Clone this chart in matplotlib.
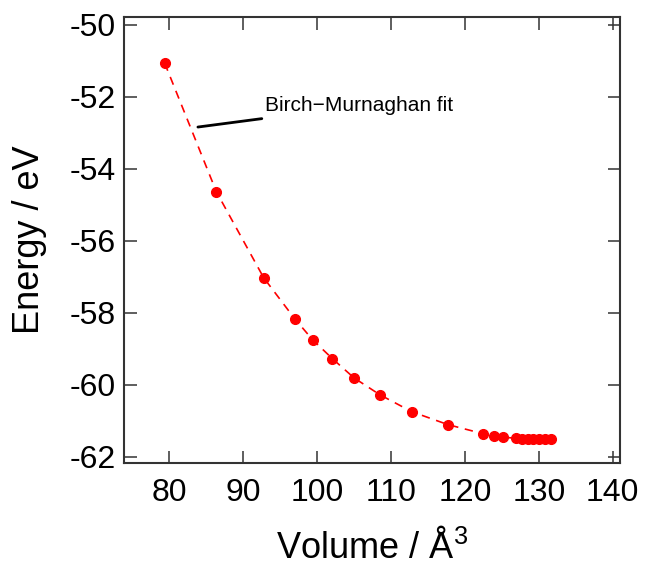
import numpy as np
import matplotlib
matplotlib.use('Agg')
import matplotlib.pyplot as plt

matplotlib.rcParams['font.family'] = ['Liberation Sans', 'DejaVu Sans']
matplotlib.rcParams['mathtext.fontset'] = 'custom'
matplotlib.rcParams['mathtext.rm'] = 'Liberation Sans'
matplotlib.rcParams['axes.unicode_minus'] = False
matplotlib.rcParams['xtick.direction'] = 'in'
matplotlib.rcParams['ytick.direction'] = 'in'

# volume (A^3) and total energy (eV)
volume = [79.4, 86.4, 92.8, 97.0, 99.4, 102.1, 105.0, 108.5, 112.8, 117.7,
          122.4, 123.9, 125.2, 126.9, 127.7, 128.5, 129.2, 130.0, 130.8, 131.6]
energy = [-51.06, -54.64, -57.03, -58.17, -58.75, -59.28, -59.81, -60.28, -60.75, -61.11,
          -61.36, -61.42, -61.46, -61.49, -61.50, -61.51, -61.52, -61.52, -61.52, -61.52]

xticks = [80, 90, 100, 110, 120, 130, 140]
yticks = [-50, -52, -54, -56, -58, -60, -62]

fig = plt.figure(figsize=(6.49, 5.65), dpi=100)
ax = fig.add_axes([0.191, 0.181, 0.764, 0.789])

ax.plot(volume, energy, '--', color='#ff0000', lw=1.2, dashes=(5, 4))
ax.plot(volume, energy, 'o', color='#ff0000', ms=7, mec='#ff0000')

ax.annotate('Birch\u2212Murnaghan fit', xy=(83.9, -52.84), xytext=(93.0, -52.25),
            fontsize=15, va='center', ha='left',
            arrowprops=dict(arrowstyle='-', color='black', lw=2, shrinkA=3, shrinkB=0))

ax.set_xlim(73.9, 140.95)
ax.set_ylim(-62.17, -49.78)
ax.set_xticks(xticks)
ax.set_yticks(yticks)
ax.tick_params(top=True, right=True, length=9, width=1.1, labelsize=23, color='#333333')
ax.tick_params(axis='x', pad=11)
ax.tick_params(axis='y', pad=6)
for s in ax.spines.values():
    s.set_linewidth(1.5)
    s.set_color('#333333')

ax.set_xlabel('Volume / \u00c5$^3$', fontsize=26, labelpad=15)
ax.set_ylabel('Energy / eV', fontsize=26)
ax.yaxis.set_label_coords(-0.155, 0.5)

plt.savefig('out.png', dpi=100)
